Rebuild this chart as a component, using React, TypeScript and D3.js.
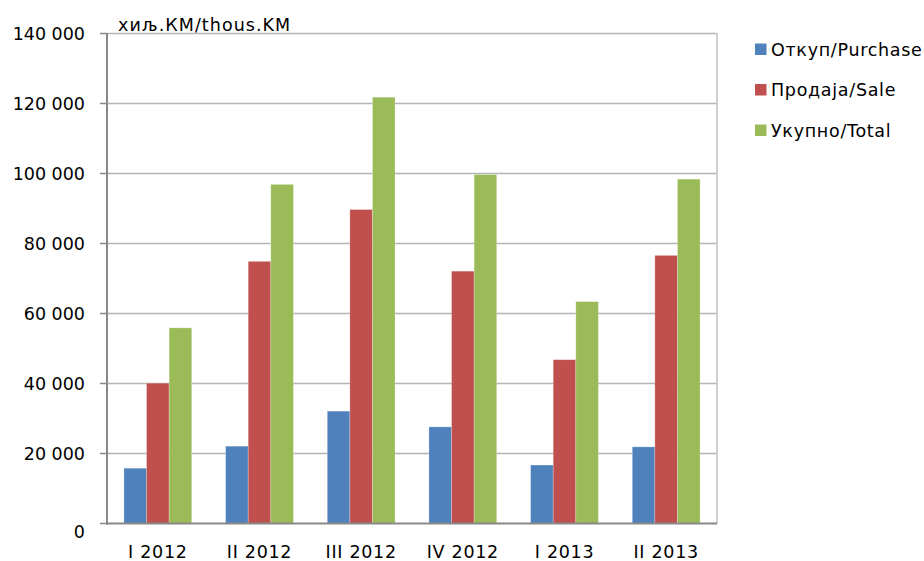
import React from "react";
import * as d3 from "d3";

const categories = ["I 2012", "II 2012", "III 2012", "IV 2012", "I 2013", "II 2013"];
const seriesNames = ["Откуп/Purchase", "Продаја/Sale", "Укупно/Total"];
const purchase = [15800, 22100, 32100, 27600, 16700, 21900];
const sale = [40100, 74900, 89700, 72100, 46800, 76600];
const total = [55900, 96900, 121800, 99700, 63400, 98400];
const yTicks = [0, 20000, 40000, 60000, 80000, 100000, 120000, 140000];
const colors = ["#4f81bd", "#c0504d", "#9bbb59"];
const unitLabel = "хиљ.КМ/thous.KM";

const W = 924, H = 561;
const plot = { left: 107, right: 717, top: 33.5, bottom: 523.5 };
const font = "'DejaVu Sans', Verdana, sans-serif";

export default function App() {
  const values = [purchase, sale, total];
  const x = d3.scaleBand<string>().domain(categories).range([plot.left, plot.right]).paddingInner(0).paddingOuter(0);
  const y = d3.scaleLinear().domain([0, 140000]).range([plot.bottom, plot.top]);
  const bw = x.bandwidth() / 4.5;
  const fmt = (v: number) => d3.format(",")(v).replace(/,/g, " ");

  return (
    <svg width={W} height={H} style={{ position: "absolute", left: 0, top: 0, background: "#fff" }}>
      {yTicks.map((t) => (
        <g key={t}>
          {t > 0 && (
            <line x1={plot.left} x2={plot.right} y1={y(t)} y2={y(t)} stroke="#b4b4b4" strokeWidth={1.5} />
          )}
          <line x1={plot.left - 7} x2={plot.left} y1={y(t)} y2={y(t)} stroke="#888" strokeWidth={1.5} />
          <text x={85} y={y(t) + (t === 0 ? 8 : 0)} dy="0.36em" textAnchor="end" fontFamily={font} fontSize={17.5} fill="#000">
            {fmt(t)}
          </text>
        </g>
      ))}
      <line x1={plot.right} x2={plot.right} y1={plot.top} y2={plot.bottom} stroke="#c0c0c0" strokeWidth={1.5} />
      {categories.map((c, i) => (
        <g key={c}>
          {values.map((vals, s) => {
            const x0 = (x(c) as number) + 0.75 * bw + s * bw;
            return (
              <rect key={s} x={x0} y={y(vals[i])} width={bw} height={plot.bottom - y(vals[i])} fill={colors[s]} stroke="rgba(255,255,255,0.35)" strokeWidth={0.7} />
            );
          })}
          <text x={(x(c) as number) + x.bandwidth() / 2} y={558} textAnchor="middle" fontFamily={font} fontSize={17.5} letterSpacing={0.7} fill="#000">
            {c}
          </text>
        </g>
      ))}
      <line x1={plot.left} x2={plot.left} y1={plot.top} y2={plot.bottom + 1} stroke="#888" strokeWidth={2} />
      <line x1={plot.left - 1} x2={plot.right} y1={plot.bottom} y2={plot.bottom} stroke="#888" strokeWidth={2} />
      <text x={118} y={30.5} fontFamily={font} fontSize={17.5} letterSpacing={1.05} fill="#000">{unitLabel}</text>
      {seriesNames.map((n, s) => (
        <g key={n} transform={`translate(755, ${49.5 + s * 40.5})`}>
          <rect x={0} y={-6} width={11.5} height={11.5} fill={colors[s]} />
          <text x={16} y={0} dy="0.36em" fontFamily={font} fontSize={17.5} letterSpacing={0.7} fill="#000">{n}</text>
        </g>
      ))}
    </svg>
  );
}
